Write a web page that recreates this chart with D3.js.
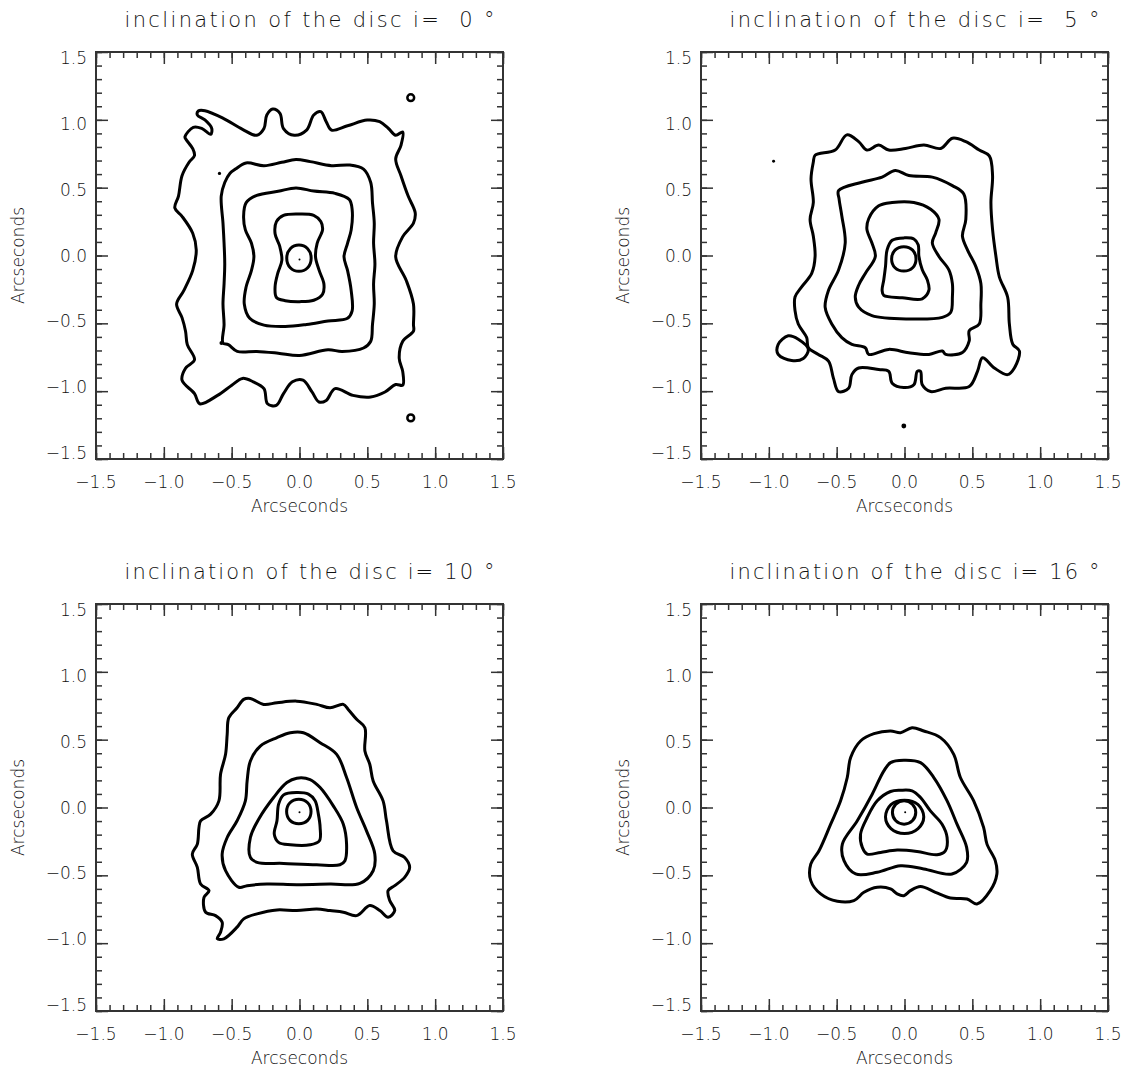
<!DOCTYPE html>
<html>
<head>
<meta charset="utf-8">
<script src="https://cdn.jsdelivr.net/npm/d3@7"></script>
<style>
  body { margin: 0; background: #fff; }
  text { font-family: "DejaVu Sans", sans-serif; font-weight: 200; fill: #111; }
</style>
</head>
<body>
<svg id="chart" width="1126" height="1072"></svg>
<script>
// inclination of each panel (degrees)
const inclinations = [0, 5, 10, 16];
const majorTicks = [-1.5, -1.0, -0.5, 0.0, 0.5, 1.0, 1.5];
const axisTitle = "Arcseconds";

// contour lines, in arcseconds [x, y]
const contours0 = [
  [[0.086,-0.02],[0.06,0.05],[-0.004,0.077],[-0.068,0.05],[-0.094,-0.02],[-0.068,-0.09],[-0.004,-0.117],[0.06,-0.09]],
  [[-0.118,0.296],[0,0.306],[0.105,0.296],[0.157,0.25],[0.17,0.19],[0.13,0.09],[0.118,-0.01],[0.145,-0.11],[0.18,-0.21],[0.17,-0.285],[0.105,-0.33],[0,-0.34],[-0.105,-0.333],[-0.17,-0.31],[-0.18,-0.23],[-0.16,-0.13],[-0.13,-0.035],[-0.145,0.065],[-0.18,0.16],[-0.17,0.25]],
  [[-0.315,0.443],[-0.157,0.473],[-0.026,0.498],[0.105,0.475],[0.262,0.458],[0.367,0.413],[0.388,0.339],[0.381,0.189],[0.354,0.09],[0.328,-0.01],[0.354,-0.11],[0.381,-0.259],[0.388,-0.408],[0.354,-0.463],[0.21,-0.483],[0.052,-0.508],[-0.105,-0.523],[-0.262,-0.513],[-0.367,-0.463],[-0.407,-0.358],[-0.394,-0.234],[-0.354,-0.11],[-0.336,-0.01],[-0.354,0.09],[-0.399,0.189],[-0.412,0.289],[-0.394,0.388]],
  [[-0.472,0.637],[-0.394,0.682],[-0.262,0.662],[-0.131,0.687],[-0.026,0.707],[0.079,0.692],[0.236,0.662],[0.367,0.667],[0.472,0.637],[0.525,0.538],[0.538,0.388],[0.551,0.239],[0.546,0.09],[0.556,-0.06],[0.546,-0.209],[0.551,-0.358],[0.538,-0.508],[0.525,-0.632],[0.472,-0.682],[0.315,-0.707],[0.21,-0.695],[0,-0.737],[-0.157,-0.72],[-0.315,-0.707],[-0.459,-0.707],[-0.525,-0.657],[-0.564,-0.645],[-0.556,-0.508],[-0.564,-0.358],[-0.556,-0.209],[-0.551,-0.06],[-0.556,0.09],[-0.564,0.239],[-0.577,0.438],[-0.551,0.538],[-0.512,0.607]],
  [[-0.746,1.065],[-0.697,1.067],[-0.562,1.011],[-0.42,0.93],[-0.315,0.886],[-0.262,0.936],[-0.241,1.036],[-0.197,1.08],[-0.144,1.048],[-0.118,0.936],[-0.039,0.886],[0.052,0.924],[0.105,1.036],[0.157,1.06],[0.197,0.986],[0.236,0.924],[0.354,0.956],[0.499,0.998],[0.591,0.986],[0.656,0.936],[0.709,0.886],[0.761,0.911],[0.748,0.812],[0.709,0.712],[0.748,0.588],[0.801,0.438],[0.853,0.314],[0.84,0.239],[0.761,0.139],[0.709,-0.01],[0.787,-0.184],[0.84,-0.358],[0.84,-0.508],[0.84,-0.558],[0.761,-0.632],[0.735,-0.757],[0.761,-0.856],[0.761,-0.956],[0.709,-0.951],[0.63,-1.006],[0.525,-1.043],[0.394,-1.031],[0.262,-0.981],[0.197,-1.068],[0.144,-1.08],[0.092,-1.006],[0.026,-0.919],[-0.052,-0.931],[-0.118,-1.018],[-0.171,-1.105],[-0.236,-1.093],[-0.262,-0.981],[-0.341,-0.931],[-0.42,-0.906],[-0.499,-0.956],[-0.604,-1.031],[-0.735,-1.093],[-0.774,-1.018],[-0.866,-0.919],[-0.84,-0.831],[-0.774,-0.769],[-0.827,-0.657],[-0.84,-0.558],[-0.866,-0.458],[-0.906,-0.358],[-0.853,-0.259],[-0.787,-0.11],[-0.761,0.04],[-0.787,0.164],[-0.866,0.289],[-0.919,0.351],[-0.892,0.438],[-0.866,0.588],[-0.814,0.687],[-0.774,0.737],[-0.787,0.787],[-0.84,0.861],[-0.844,0.876],[-0.783,0.945],[-0.721,0.937],[-0.655,0.893],[-0.647,0.937],[-0.697,0.999],[-0.753,1.036]]
];
const rings0 = [[0.82, 1.163, 0.025], [0.82, -1.197, 0.025]];
const dots0 = [[-0.59, 0.605, 0.012], [-0.575, -0.645, 0.015], [0, -0.03, 0.005]];

const contours5 = [
  [[0.085,-0.025],[0.06,0.04],[-0.005,0.065],[-0.07,0.04],[-0.095,-0.025],[-0.07,-0.09],[-0.005,-0.115],[0.06,-0.09]],
  [[0,0.13],[-0.091,0.112],[-0.128,0.042],[-0.14,-0.08],[-0.153,-0.18],[-0.165,-0.256],[-0.153,-0.294],[-0.017,-0.311],[0.131,-0.319],[0.18,-0.256],[0.168,-0.18],[0.131,-0.105],[0.106,-0.005],[0.101,0.08],[0.069,0.122]],
  [[-0.19,0.366],[-0.091,0.391],[0.069,0.391],[0.193,0.341],[0.254,0.266],[0.23,0.167],[0.205,0.092],[0.254,-0.007],[0.328,-0.107],[0.353,-0.207],[0.353,-0.306],[0.341,-0.418],[0.279,-0.456],[0.032,-0.468],[-0.24,-0.443],[-0.338,-0.381],[-0.363,-0.306],[-0.338,-0.219],[-0.289,-0.132],[-0.215,-0.007],[-0.24,0.092],[-0.277,0.192],[-0.264,0.271]],
  [[-0.486,0.478],[-0.314,0.54],[-0.165,0.578],[-0.067,0.627],[0.032,0.59],[0.205,0.578],[0.353,0.515],[0.437,0.453],[0.452,0.266],[0.427,0.142],[0.464,0.042],[0.526,-0.082],[0.563,-0.207],[0.563,-0.356],[0.551,-0.505],[0.477,-0.555],[0.477,-0.63],[0.427,-0.715],[0.304,-0.729],[0.279,-0.704],[0.18,-0.729],[0.032,-0.717],[-0.116,-0.692],[-0.264,-0.729],[-0.289,-0.68],[-0.388,-0.655],[-0.462,-0.605],[-0.536,-0.505],[-0.585,-0.381],[-0.56,-0.256],[-0.486,-0.107],[-0.437,0.092],[-0.462,0.291],[-0.482,0.416]],
  [[-0.659,0.739],[-0.511,0.777],[-0.425,0.889],[-0.338,0.839],[-0.277,0.777],[-0.19,0.814],[-0.116,0.777],[0.007,0.789],[0.143,0.814],[0.267,0.789],[0.353,0.864],[0.452,0.839],[0.551,0.777],[0.625,0.734],[0.649,0.59],[0.637,0.391],[0.649,0.192],[0.674,-0.007],[0.699,-0.157],[0.76,-0.306],[0.773,-0.505],[0.798,-0.654],[0.847,-0.704],[0.81,-0.829],[0.76,-0.878],[0.662,-0.829],[0.575,-0.754],[0.538,-0.854],[0.477,-0.966],[0.304,-0.978],[0.193,-1.003],[0.131,-0.953],[0.118,-0.854],[0.094,-0.854],[0.069,-0.953],[-0.005,-0.973],[-0.091,-0.941],[-0.116,-0.854],[-0.19,-0.841],[-0.338,-0.829],[-0.388,-0.878],[-0.412,-0.978],[-0.486,-1.003],[-0.524,-0.904],[-0.56,-0.779],[-0.635,-0.729],[-0.709,-0.679],[-0.721,-0.605],[-0.783,-0.505],[-0.807,-0.406],[-0.807,-0.306],[-0.758,-0.231],[-0.684,-0.132],[-0.659,-0.007],[-0.672,0.142],[-0.696,0.266],[-0.672,0.391],[-0.689,0.565],[-0.672,0.689]],
  [[-0.931,-0.655],[-0.857,-0.592],[-0.783,-0.617],[-0.709,-0.692],[-0.746,-0.759],[-0.832,-0.774],[-0.931,-0.729]]
];
const rings5 = [];
const dots5 = [[-0.965, 0.695, 0.011], [-0.005, -1.257, 0.018]];

const contours10 = [
  [[0.085,-0.03],[0.06,0.035],[-0.005,0.06],[-0.07,0.035],[-0.095,-0.03],[-0.07,-0.095],[-0.005,-0.12],[0.06,-0.095]],
  [[-0.02,0.11],[-0.117,0.093],[-0.154,0.025],[-0.166,-0.098],[-0.186,-0.196],[-0.154,-0.257],[-0.068,-0.275],[0.078,-0.275],[0.147,-0.245],[0.152,-0.147],[0.139,-0.049],[0.115,0.049],[0.066,0.098]],
  [[-0.02,0.216],[-0.093,0.184],[-0.191,0.074],[-0.301,-0.086],[-0.362,-0.221],[-0.362,-0.368],[-0.313,-0.404],[-0.117,-0.412],[0.127,-0.422],[0.298,-0.422],[0.335,-0.392],[0.347,-0.27],[0.323,-0.123],[0.249,0.012],[0.152,0.147],[0.078,0.206]],
  [[-0.068,0.551],[-0.166,0.515],[-0.289,0.453],[-0.362,0.343],[-0.386,0.196],[-0.399,0.049],[-0.46,-0.098],[-0.533,-0.221],[-0.57,-0.343],[-0.545,-0.466],[-0.447,-0.588],[-0.386,-0.576],[-0.24,-0.564],[-0.02,-0.569],[0.225,-0.564],[0.445,-0.559],[0.543,-0.466],[0.555,-0.343],[0.494,-0.172],[0.421,0],[0.347,0.221],[0.274,0.392],[0.152,0.478],[0.029,0.551]],
  [[-0.411,0.797],[-0.362,0.804],[-0.264,0.76],[-0.166,0.772],[-0.02,0.784],[0.127,0.76],[0.225,0.735],[0.323,0.76],[0.359,0.723],[0.421,0.65],[0.482,0.588],[0.482,0.417],[0.518,0.319],[0.543,0.196],[0.616,0.049],[0.641,-0.098],[0.69,-0.319],[0.775,-0.368],[0.812,-0.441],[0.775,-0.515],[0.702,-0.576],[0.653,-0.613],[0.665,-0.686],[0.702,-0.76],[0.653,-0.809],[0.592,-0.76],[0.518,-0.723],[0.421,-0.797],[0.323,-0.772],[0.225,-0.76],[0.127,-0.748],[-0.02,-0.76],[-0.166,-0.755],[-0.313,-0.784],[-0.411,-0.821],[-0.46,-0.882],[-0.557,-0.968],[-0.606,-0.968],[-0.582,-0.919],[-0.57,-0.846],[-0.619,-0.797],[-0.692,-0.772],[-0.704,-0.662],[-0.667,-0.613],[-0.729,-0.564],[-0.753,-0.441],[-0.79,-0.343],[-0.753,-0.27],[-0.741,-0.147],[-0.729,-0.098],[-0.655,-0.049],[-0.594,0.049],[-0.582,0.245],[-0.545,0.392],[-0.533,0.539],[-0.521,0.662],[-0.46,0.735]]
];
const rings10 = [];
const dots10 = [[0, -0.035, 0.005]];

const contours16 = [
  [[0.083,-0.037],[0.058,0.024],[-0.003,0.049],[-0.064,0.024],[-0.089,-0.037],[-0.064,-0.098],[-0.003,-0.123],[0.058,-0.098]],
  [[0.142,-0.069],[0.1,0.022],[0,0.054],[-0.1,0.022],[-0.14,-0.069],[-0.1,-0.155],[0,-0.191],[0.1,-0.155]],
  [[-0.03,0.127],[-0.103,0.118],[-0.201,0.049],[-0.275,-0.074],[-0.324,-0.196],[-0.311,-0.294],[-0.275,-0.343],[-0.176,-0.331],[-0.054,-0.314],[0.093,-0.324],[0.24,-0.348],[0.301,-0.319],[0.314,-0.221],[0.277,-0.123],[0.191,-0.025],[0.118,0.074],[0.056,0.123]],
  [[-0.005,0.348],[-0.103,0.331],[-0.152,0.27],[-0.238,0.098],[-0.348,-0.098],[-0.458,-0.27],[-0.446,-0.392],[-0.36,-0.49],[-0.201,-0.478],[-0.029,-0.429],[0.142,-0.453],[0.35,-0.49],[0.458,-0.404],[0.458,-0.294],[0.387,-0.123],[0.314,0.049],[0.216,0.221],[0.118,0.331]],
  [[-0.103,0.564],[-0.029,0.551],[0.056,0.588],[0.142,0.564],[0.265,0.515],[0.363,0.392],[0.412,0.221],[0.51,0.049],[0.583,-0.147],[0.608,-0.27],[0.669,-0.392],[0.681,-0.49],[0.632,-0.613],[0.534,-0.711],[0.461,-0.674],[0.338,-0.667],[0.228,-0.625],[0.118,-0.583],[0.044,-0.613],[-0.005,-0.65],[-0.054,-0.637],[-0.103,-0.6],[-0.201,-0.588],[-0.299,-0.625],[-0.373,-0.686],[-0.495,-0.691],[-0.618,-0.637],[-0.691,-0.539],[-0.691,-0.417],[-0.63,-0.319],[-0.544,-0.123],[-0.471,0.049],[-0.422,0.221],[-0.397,0.368],[-0.324,0.49],[-0.225,0.544]]
];
const rings16 = [];
const dots16 = [[0.005, -0.035, 0.005]];

const panelContours = [contours0, contours5, contours10, contours16];
const panelRings = [rings0, rings5, rings10, rings16];
const panelDots = [dots0, dots5, dots10, dots16];

// layout
const size = 407;
const lefts = [96, 701];
const tops = [52, 604];

const svg = d3.select("#chart");

inclinations.forEach((inc, i) => {
    const left = lefts[i % 2];
    const top = tops[Math.floor(i / 2)];

    const x = d3.scaleLinear().domain([-1.5, 1.5]).range([0, size]);
    const y = d3.scaleLinear().domain([-1.5, 1.5]).range([size, 0]);

    const g = svg.append("g").attr("transform", `translate(${left},${top})`);

    // title
    const label = "inclination of the disc i=" + (inc < 10 ? "  " + inc : " " + inc) + " °";
    g.append("text")
        .attr("x", size / 2 + 10)
        .attr("y", -25)
        .attr("text-anchor", "middle")
        .style("white-space", "pre")
        .style("font-size", "21px")
        .attr("textLength", 370)
        .attr("lengthAdjust", "spacing")
        .text(label);

    // ticks on all four sides, pointing inward
    const minor = x.ticks(30);
    const addTicks = (axis, tx, ty, values, len) => {
        g.append("g")
            .attr("transform", `translate(${tx},${ty})`)
            .call(axis.tickValues(values).tickSizeInner(len).tickSizeOuter(0).tickFormat(""))
            .call(a => a.select(".domain").remove())
            .call(a => a.selectAll("line").attr("stroke", "#333").attr("stroke-width", 1.5));
    };
    addTicks(d3.axisBottom(x), 0, size, minor, -6);
    addTicks(d3.axisBottom(x), 0, size, majorTicks, -12);
    addTicks(d3.axisTop(x), 0, 0, minor, -6);
    addTicks(d3.axisTop(x), 0, 0, majorTicks, -12);
    addTicks(d3.axisLeft(y), 0, 0, minor, -6);
    addTicks(d3.axisLeft(y), 0, 0, majorTicks, -12);
    addTicks(d3.axisRight(y), size, 0, minor, -6);
    addTicks(d3.axisRight(y), size, 0, majorTicks, -12);

    g.append("rect")
        .attr("width", size)
        .attr("height", size)
        .attr("fill", "none")
        .attr("stroke", "#333")
        .attr("stroke-width", 2);

    const fmt = d3.format(".1f");

    // tick labels
    g.selectAll(".xl")
        .data(majorTicks)
        .join("text")
        .attr("x", d => x(d))
        .attr("y", size + 29)
        .attr("text-anchor", "middle")
        .style("font-size", "17px")
        .text(fmt);

    g.selectAll(".yl")
        .data(majorTicks)
        .join("text")
        .attr("x", -9)
        .attr("y", d => size / 2 + (y(d) - size / 2) * 0.97)
        .attr("dy", "0.36em")
        .attr("text-anchor", "end")
        .style("font-size", "17px")
        .text(fmt);

    // axis titles
    g.append("text")
        .attr("x", size / 2)
        .attr("y", size + 53)
        .attr("text-anchor", "middle")
        .style("font-size", "17px")
        .text(axisTitle);

    g.append("text")
        .attr("transform", `translate(-72,${size / 2}) rotate(-90)`)
        .attr("text-anchor", "middle")
        .style("font-size", "17px")
        .text(axisTitle);

    // contours
    const line = d3.line()
        .x(d => x(d[0]))
        .y(d => y(d[1]))
        .curve(d3.curveCatmullRomClosed.alpha(0.5));

    g.append("g")
        .selectAll("path")
        .data(panelContours[i])
        .join("path")
        .attr("d", line)
        .attr("fill", "none")
        .attr("stroke", "#000")
        .attr("stroke-width", 3)
        .attr("stroke-linejoin", "round");

    g.append("g")
        .selectAll("circle")
        .data(panelRings[i])
        .join("circle")
        .attr("cx", d => x(d[0]))
        .attr("cy", d => y(d[1]))
        .attr("r", d => x(d[2]) - x(0))
        .attr("fill", "none")
        .attr("stroke", "#000")
        .attr("stroke-width", 2.5);

    g.append("g")
        .selectAll("circle")
        .data(panelDots[i])
        .join("circle")
        .attr("cx", d => x(d[0]))
        .attr("cy", d => y(d[1]))
        .attr("r", d => Math.max(1, x(d[2]) - x(0)))
        .attr("fill", "#000");
});
</script>
</body>
</html>
